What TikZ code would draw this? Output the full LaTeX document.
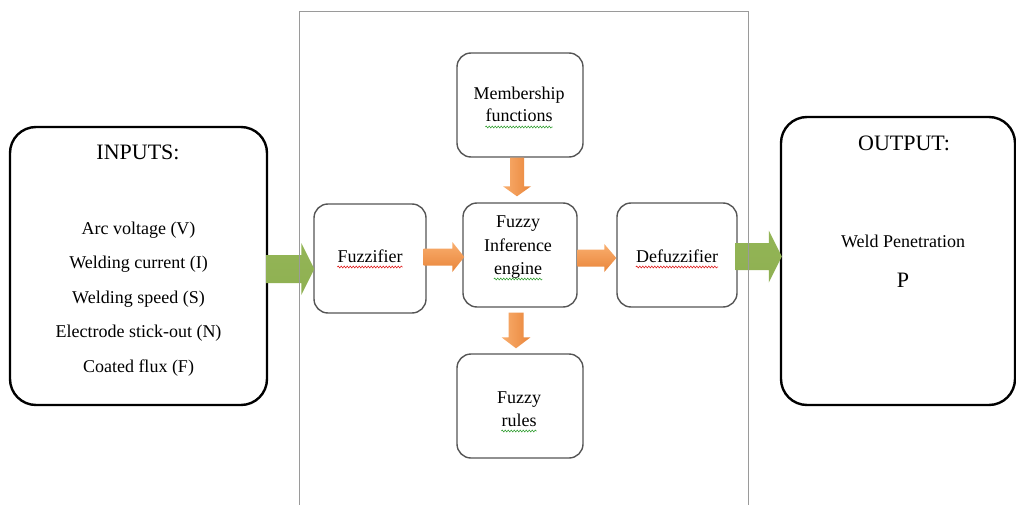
\documentclass[tikz,border=0pt]{standalone}
\usepackage{fontspec}
\setmainfont{Liberation Serif}
\usetikzlibrary{calc,decorations.pathmorphing}
\definecolor{gtop}{HTML}{93B556}
\definecolor{gmid}{HTML}{B0CC7E}
\definecolor{gbot}{HTML}{8FB052}
\definecolor{olight}{HTML}{F9AE6E}
\definecolor{omid}{HTML}{F79646}
\definecolor{odark}{HTML}{E9853A}
\definecolor{framegray}{HTML}{9A9A9A}
\definecolor{boxgray}{HTML}{555555}
\definecolor{squigred}{HTML}{E02020}
\definecolor{squiggreen}{HTML}{3BA33B}
\newcommand\myharrow[6]{%
  \path[#1] let \p1=#2, \p2=#3 in
    (\x1,\y2+#4) -- (\x2-#6,\y2+#4) -- (\x2-#6,\y2+#5) -- (\x2,\y2)
    -- (\x2-#6,\y2-#5) -- (\x2-#6,\y2-#4) -- (\x1,\y2-#4) -- cycle;}
\newcommand\myvarrow[6]{%
  \path[#1] let \p1=#2, \p2=#3 in
    (\x2-#4,\y1) -- (\x2-#4,\y2+#6) -- (\x2-#5,\y2+#6) -- (\x2,\y2)
    -- (\x2+#5,\y2+#6) -- (\x2+#4,\y2+#6) -- (\x2+#4,\y1) -- cycle;}
\begin{document}
\begin{tikzpicture}[x=1pt,y=-1pt,
  bigbox/.style={draw=black, line width=2.4pt, rounded corners=26pt, fill=white, inner sep=0pt},
  inbox/.style={draw=boxgray, line width=1.4pt, rounded corners=14pt, fill=white, inner sep=0pt},
  txt/.style={font=\fontsize{18}{22}\selectfont, anchor=base, inner sep=0pt},
  ttl/.style={font=\fontsize{22}{26}\selectfont, anchor=base, inner sep=0pt},
  garr/.style={shade, top color=gtop, middle color=gmid, bottom color=gbot},
  oarrh/.style={shade, top color=olight, bottom color=odark},
  oarrv/.style={shade, left color=olight, right color=odark},
  sqr/.style={draw=squigred, line width=0.6pt, decorate, decoration={snake, amplitude=0.9pt, segment length=3pt}},
  sqg/.style={draw=squiggreen, line width=0.6pt, decorate, decoration={snake, amplitude=0.9pt, segment length=3pt}},
  frame/.style={draw=framegray, line width=1.2pt, inner sep=0pt}
]
\useasboundingbox (0,0) rectangle (1016,505);
\fill[white] (0,0) rectangle (1016,505);

% outer boxes
\node[bigbox, minimum width=257pt, minimum height=278pt] (in) at (138.5,266) {};
\node[bigbox, minimum width=234pt, minimum height=288pt] (out) at (898,261) {};

% inner boxes
\node[inbox, minimum width=126pt, minimum height=104pt] (mf) at (520,105) {};
\node[inbox, minimum width=112pt, minimum height=109pt] (fz) at (370,258.5) {};
\node[inbox, minimum width=114pt, minimum height=104pt] (inf) at (520,255) {};
\node[inbox, minimum width=120pt, minimum height=104pt] (df) at (677,255) {};
\node[inbox, minimum width=126pt, minimum height=104pt] (fr) at (520,406) {};

% texts
\node[ttl] (inT) at (138,160) {INPUTS:};
\node[txt] (i1) at (138.5,234) {Arc voltage (V)};
\node[txt] (i2) at (138.5,268.5) {Welding current (I)};
\node[txt] (i3) at (138.5,303) {Welding speed (S)};
\node[txt] (i4) at (138.5,337.5) {Electrode stick-out (N)};
\node[txt] (i5) at (138.5,372) {Coated flux (F)};

\node[ttl] (outT) at (904,151) {OUTPUT:};
\node[txt] (o1) at (903,247) {Weld Penetration};
\node[ttl] (o2) at (903,287) {P};

\node[txt] (mf1) at (519,100) {Membership};
\node[txt] (mf2) at (519,122) {functions};
\node[txt] (fzT) at (370,262) {Fuzzifier};
\node[txt] (inf1) at (518,227) {Fuzzy};
\node[txt] (inf2) at (518,251) {Inference};
\node[txt] (inf3) at (518,274) {engine};
\node[txt] (dfT) at (677,262) {Defuzzifier};
\node[txt] (fr1) at (519,403) {Fuzzy};
\node[txt] (fr2) at (519,426) {rules};

% spell-check squiggles
\draw[sqr] ($(fzT.base west)+(0,5)$) -- ($(fzT.base east)+(0,5)$);
\draw[sqr] ($(dfT.base west)+(0,5)$) -- ($(dfT.base east)+(0,5)$);
\draw[sqg] ($(mf2.base west)+(0,5)$) -- ($(mf2.base east)+(0,5)$);
\draw[sqg] ($(inf3.base west)+(0,5)$) -- ($(inf3.base east)+(0,5)$);
\draw[sqg] ($(fr2.base west)+(0,5)$) -- ($(fr2.base east)+(0,5)$);

% block arrows
\myharrow{garr}{($(in.east)+(-2,3)$)}{($(fz.west)+(1,10.5)$)}{14pt}{26pt}{13pt}
\myharrow{garr}{($(df.east)+(-2,0)$)}{($(out.west)+(2,-4.5)$)}{13.5pt}{26pt}{13pt}
\myharrow{oarrh}{($(fz.east)+(-3,0)$)}{($(inf.west)+(2,2)$)}{8.5pt}{15pt}{12pt}
\myharrow{oarrh}{($(inf.east)+(0,0)$)}{($(df.west)+(0,3)$)}{8.5pt}{14pt}{12pt}
\myvarrow{oarrv}{($(mf.south)+(0,0)$)}{($(inf.north)+(-3,-6)$)}{7pt}{14pt}{10pt}
\myvarrow{oarrv}{($(inf.south)+(0,5)$)}{($(fr.north)+(-4,-5)$)}{7.5pt}{14.5pt}{11pt}

% frame drawn over arrows
\node[frame, minimum width=449pt, minimum height=510pt, anchor=north west] (fr0) at (299,11) {};
\end{tikzpicture}
\end{document}
